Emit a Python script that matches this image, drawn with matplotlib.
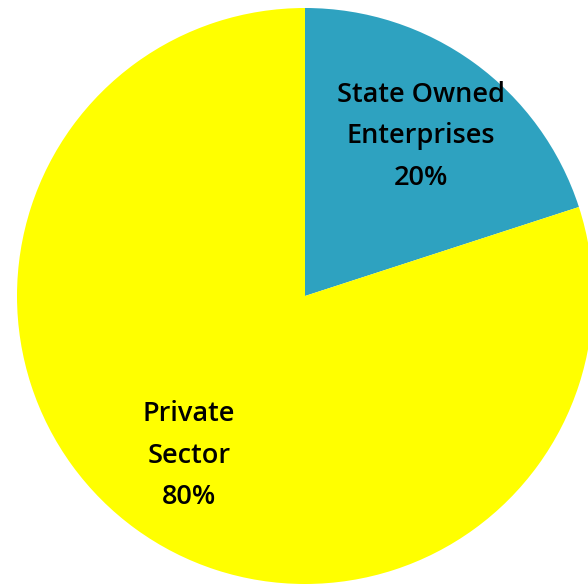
import matplotlib
matplotlib.use("Agg")
import matplotlib.pyplot as plt

categories = ["State Owned\nEnterprises", "Private\nSector"]
shares = [20, 80]
colors = ["#2EA2C0", "#FFFF00"]

W, H = 588, 586
fig = plt.figure(figsize=(W / 100, H / 100), dpi=100)
ax = fig.add_axes([0, 0, 1, 1])

labels = [f"{c}\n{v}%" for c, v in zip(categories, shares)]
wedges, texts = ax.pie(
    shares,
    labels=labels,
    colors=colors,
    startangle=90,
    counterclock=False,
    center=(305, H - 296),
    radius=288,
    labeldistance=0.685,
    frame=True,
    textprops=dict(ha="center", va="center", fontsize=19.5, fontweight="semibold",
                   family=["Open Sans", "DejaVu Sans"], linespacing=1.63,
                   color="black"),
    wedgeprops=dict(linewidth=0),
)
ax.set_xlim(0, W)
ax.set_ylim(0, H)
ax.set_aspect("equal")
ax.axis("off")

fig.savefig("out.png", dpi=100)
